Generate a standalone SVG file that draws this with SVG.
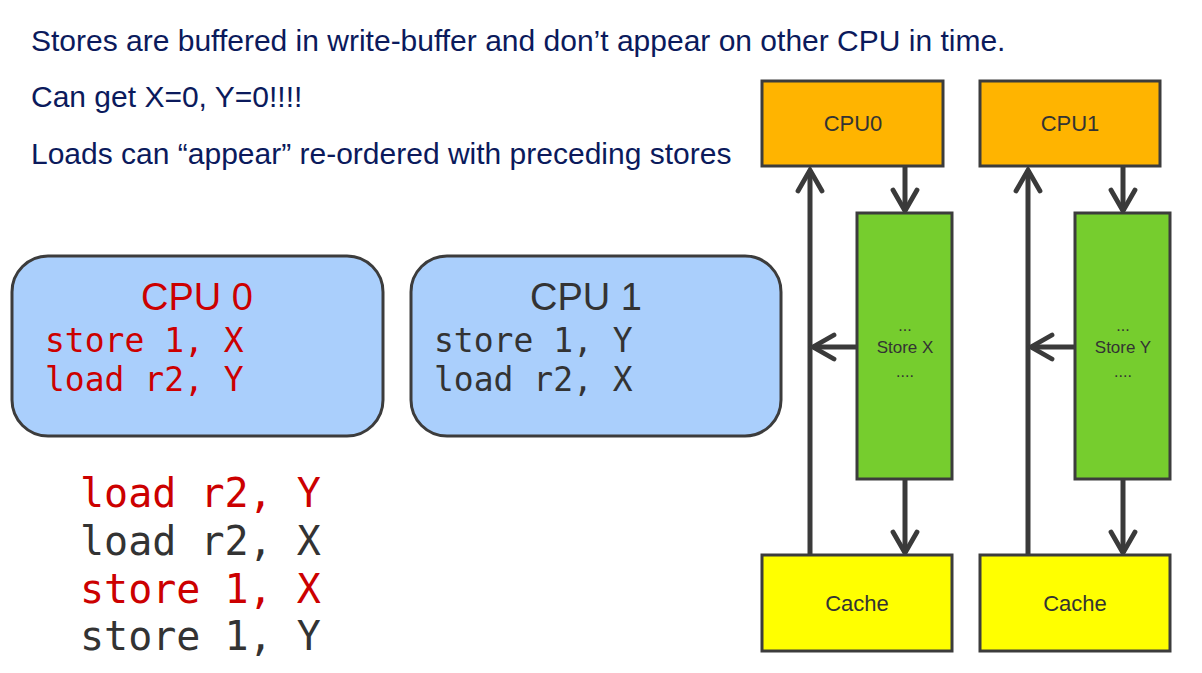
<svg xmlns="http://www.w3.org/2000/svg" width="1202" height="673" viewBox="0 0 1202 673">
<defs>
<style>
.hdr{font-family:"Liberation Sans",Arial,sans-serif;font-size:30px;fill:#0b1a5c}
.mono{font-family:"DejaVu Sans Mono",monospace}
.lbl{font-family:"Liberation Sans",Arial,sans-serif;fill:#333333;text-anchor:middle}
.red{fill:#cc0000}
.dark{fill:#333333}
.bubble{fill:#aacffc;stroke:#3c3c3c;stroke-width:3}
.box{stroke:#3c3c3c;stroke-width:3}
.conn{stroke:#3a3a3a;stroke-width:5;fill:none}
</style>
<marker id="ah" viewBox="0 0 10 10" refX="8" refY="5" markerWidth="6" markerHeight="6" orient="auto" markerUnits="strokeWidth">
<path d="M1,1 L8,5 L1,9" fill="none" stroke="#3a3a3a" stroke-width="1.6" stroke-linecap="round" stroke-linejoin="miter"/>
</marker>
</defs>
<rect width="1202" height="673" fill="#ffffff"/>
<g id="header">
<text class="hdr" x="31" y="51">Stores are buffered in write-buffer and don’t appear on other CPU in time.</text>
<text class="hdr" x="31" y="107">Can get X=0, Y=0!!!!</text>
<text class="hdr" x="31" y="164">Loads can “appear” re-ordered with preceding stores</text>
</g>
<g id="cpu0-prog">
<rect class="bubble" x="12" y="256" width="371" height="180" rx="36"/>
<text class="lbl red" x="197" y="310" font-size="38">CPU 0</text>
<text class="mono red" x="45" y="352" font-size="33">store 1, X</text>
<text class="mono red" x="45" y="391" font-size="33">load r2, Y</text>
</g>
<g id="cpu1-prog">
<rect class="bubble" x="411" y="256" width="370" height="180" rx="36"/>
<text class="lbl" x="586" y="310" font-size="38">CPU 1</text>
<text class="mono dark" x="434" y="352" font-size="33">store 1, Y</text>
<text class="mono dark" x="434" y="391" font-size="33">load r2, X</text>
</g>
<g id="order">
<text class="mono red" x="80" y="507" font-size="40">load r2, Y</text>
<text class="mono dark" x="80" y="555" font-size="40">load r2, X</text>
<text class="mono red" x="80" y="603" font-size="40">store 1, X</text>
<text class="mono dark" x="80" y="650" font-size="40">store 1, Y</text>
</g>
<g id="connectors">
<line class="conn" x1="810" y1="555" x2="810" y2="170" marker-end="url(#ah)"/>
<line class="conn" x1="905" y1="166" x2="905" y2="211" marker-end="url(#ah)"/>
<line class="conn" x1="857" y1="347" x2="813" y2="347" marker-end="url(#ah)"/>
<line class="conn" x1="905" y1="479" x2="905" y2="553" marker-end="url(#ah)"/>
<line class="conn" x1="1028" y1="555" x2="1028" y2="170" marker-end="url(#ah)"/>
<line class="conn" x1="1123" y1="166" x2="1123" y2="211" marker-end="url(#ah)"/>
<line class="conn" x1="1075" y1="347" x2="1031" y2="347" marker-end="url(#ah)"/>
<line class="conn" x1="1123" y1="479" x2="1123" y2="553" marker-end="url(#ah)"/>
</g>
<g id="cpu0">
<rect class="box" x="762" y="81" width="181" height="85" fill="#ffb400"/>
<text class="lbl" x="853" y="131" font-size="22">CPU0</text>
</g>
<g id="cpu1">
<rect class="box" x="980" y="81" width="180" height="85" fill="#ffb400"/>
<text class="lbl" x="1070" y="131" font-size="22">CPU1</text>
</g>
<g id="sb0">
<rect class="box" x="857" y="213" width="95" height="266" fill="#76cd2e"/>
<text class="lbl" x="905" y="331" font-size="16">...</text>
<text class="lbl" x="905" y="353" font-size="17">Store X</text>
<text class="lbl" x="905" y="377" font-size="16">....</text>
</g>
<g id="sb1">
<rect class="box" x="1075" y="213" width="95" height="266" fill="#76cd2e"/>
<text class="lbl" x="1123" y="331" font-size="16">...</text>
<text class="lbl" x="1123" y="353" font-size="17">Store Y</text>
<text class="lbl" x="1123" y="377" font-size="16">....</text>
</g>
<g id="cache0">
<rect class="box" x="762" y="555" width="190" height="96" fill="#ffff00"/>
<text class="lbl" x="857" y="611" font-size="22">Cache</text>
</g>
<g id="cache1">
<rect class="box" x="980" y="555" width="190" height="96" fill="#ffff00"/>
<text class="lbl" x="1075" y="611" font-size="22">Cache</text>
</g>
</svg>
